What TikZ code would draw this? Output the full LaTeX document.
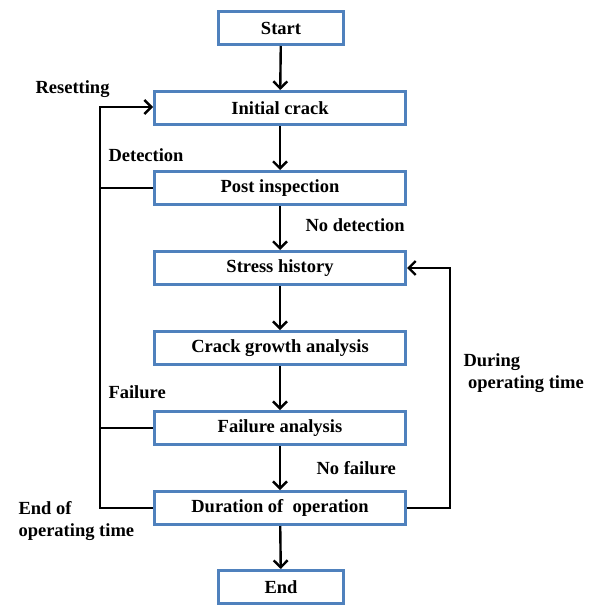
\documentclass[tikz,border=0pt]{standalone}
\usepackage{fontspec}
\setmainfont{Liberation Serif}
\usepackage{tikz}
\usetikzlibrary{arrows.meta}
\definecolor{boxblue}{RGB}{79,129,189}

\begin{document}
\begin{tikzpicture}[x=1pt, y=-1pt, >={Straight Barb[length=7pt,width=14pt]},
  font=\fontsize{18.5}{22.5}\selectfont\bfseries,
  box/.style={draw=boxblue, line width=3pt, minimum height=33pt, inner sep=0pt},
  bigbox/.style={box, minimum width=251pt},
  smallbox/.style={box, minimum width=125pt},
  conn/.style={line width=2.4pt}]

\useasboundingbox (0,0) rectangle (594,605);

% Start and end
\node[smallbox] (start) at (281,28) {Start};
\node[smallbox] (end) at (281,587) {End};

% The steps
\foreach \t [count=\i] in {Initial crack, Post inspection, Stress history,
  Crack growth analysis, Failure analysis, {Duration of\ \ operation}}
\node[bigbox] (B\i) at (280,28+80*\i) {\t};

% Straight connections
\draw[->, conn] (start) -- (B1);
\foreach \i [evaluate=\i as \j using int(\i+1)] in {1,...,5}
\draw[->, conn] (B\i) -- (B\j);
\draw[->, conn] (B6) -- (end);

% The loops
\coordinate (lft) at (100,107);
\coordinate (rgt) at (450,268);
\draw[->, conn] (B6.west) -| (lft) -- (B1.west |- lft);
\draw[conn] (B2.west) -- (B2.west -| lft);
\draw[conn] (B5.west) -- (B5.west -| lft);
\draw[->, conn] (B6.east) -| (rgt) -- (B3.east);

% Labels
\node[anchor=west] (reset) at (32,89) {Resetting};
\node[anchor=west] (detect) at (105,155) {Detection};
\node[anchor=west] (nodetect) at (302,225) {No detection};
\node[anchor=west] (fail) at (105,392) {Failure};
\node[anchor=west] (nofail) at (313,468) {No failure};
\node[anchor=west, align=left] (during) at (460,373) {During\\\ operating time};
\node[anchor=west, align=left] (endop) at (15,521) {End of\\operating time};

\end{tikzpicture}
\end{document}
